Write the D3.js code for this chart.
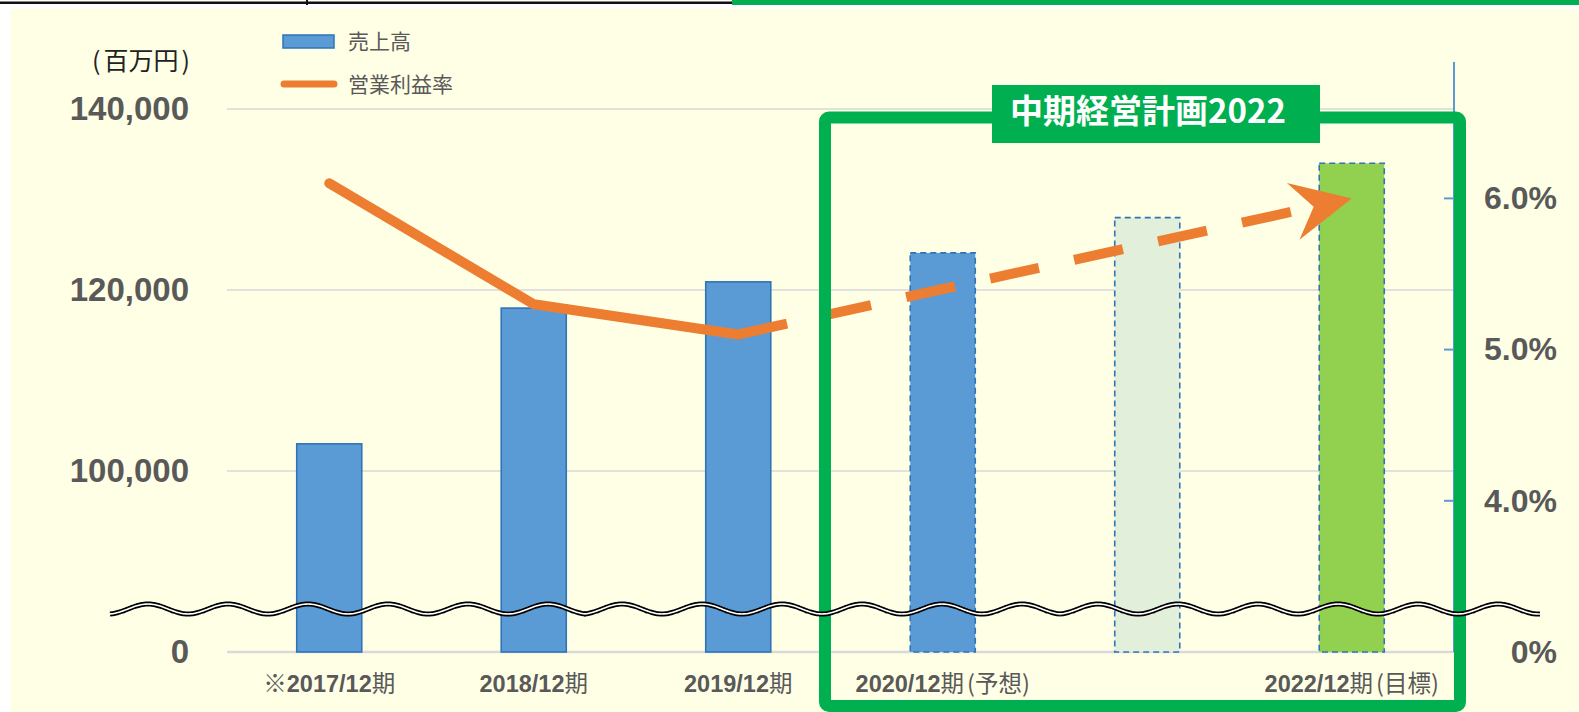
<!DOCTYPE html>
<html>
<head>
<meta charset="utf-8">
<script src="https://cdn.jsdelivr.net/npm/d3@7"></script>
<style>
  html, body { margin: 0; padding: 0; background: #fff; }
  svg { display: block; }
</style>
</head>
<body>
<div id="chart"></div>
<script>
// データ
const categories = ['2017', '2018', '2019', '2020', '2021', '2022'];
const xLabels = ['※2017/12期', '2018/12期', '2019/12期', '2020/12期(予想)', '', '2022/12期(目標)'];
const sales = [103000, 118000, 120900, 124100, 128000, 134000];
const barFills = ['#5B9BD5', '#5B9BD5', '#5B9BD5', '#5B9BD5', '#E2EFDA', '#92D050'];
const barDashed = [false, false, false, true, true, true];
const marginActual = [6.1, 5.3, 5.1];   // 2017〜2019 実績
const marginTarget = 6.0;               // 2022 目標
const leftTicks = [80000, 100000, 120000, 140000];
const leftTickLabels = ['0', '100,000', '120,000', '140,000'];
const rightTicks = [3, 4, 5, 6];
const rightTickLabels = ['0%', '4.0%', '5.0%', '6.0%'];

const width = 1579, height = 712;
const plot = { left: 227, right: 1454, top: 62, bottom: 652 };
const numFont = '"Liberation Sans", Arial, sans-serif';
const jpFont = '"Noto Sans CJK JP", sans-serif';

const svg = d3.select('#chart').append('svg')
    .attr('width', width)
    .attr('height', height);

// 背景
svg.append('rect').attr('x', 10).attr('y', 9).attr('width', width - 10).attr('height', height - 9)
    .attr('fill', '#FFFFE6');
svg.append('rect').attr('x', 0).attr('y', 1.5).attr('width', 732).attr('height', 2.5).attr('fill', '#111');
svg.append('rect').attr('x', 306).attr('y', 0).attr('width', 2).attr('height', 5).attr('fill', '#111');
svg.append('rect').attr('x', 732).attr('y', 0).attr('width', width - 732).attr('height', 5).attr('fill', '#00B050');

// スケール（軸は省略表示：0 の位置に 80,000 / 3% を置く）
const x = d3.scaleBand().domain(categories).range([plot.left, plot.right])
    .paddingInner(0.682).paddingOuter(0.341);
const y = d3.scaleLinear().domain([80000, 140000]).range([plot.bottom, 109]);
const y2 = d3.scaleLinear().domain([3, 6]).range([plot.bottom, 198.4]);

// グリッド線
svg.append('g').selectAll('line')
    .data(leftTicks)
    .join('line')
    .attr('x1', plot.left).attr('x2', plot.right)
    .attr('y1', d => y(d)).attr('y2', d => y(d))
    .attr('stroke', '#D9D9D9')
    .attr('stroke-width', (d, i) => i === 0 ? 2.5 : 1.6);

// 左軸
const leftAxis = svg.append('g')
    .attr('transform', `translate(189,0)`)
    .call(d3.axisLeft(y).tickValues(leftTicks).tickSize(0).tickPadding(0)
        .tickFormat((d, i) => leftTickLabels[i]));
leftAxis.select('.domain').remove();
leftAxis.selectAll('text')
    .attr('font-family', numFont)
    .attr('font-size', 33).attr('font-weight', 'bold').attr('fill', '#595959');

// 単位
const unit = svg.append('text')
    .attr('x', 190).attr('y', 70)
    .attr('text-anchor', 'end')
    .attr('font-family', jpFont)
    .attr('font-size', 25).attr('fill', '#222');
unit.append('tspan').text('(');
unit.append('tspan').attr('dx', 3).text('百万円');
unit.append('tspan').attr('dx', 3).text(')');

// 右軸
svg.append('line')
    .attr('x1', plot.right).attr('x2', plot.right)
    .attr('y1', plot.top).attr('y2', plot.bottom)
    .attr('stroke', '#5B9BD5').attr('stroke-width', 2);
svg.append('g').selectAll('line')
    .data(rightTicks.slice(1))
    .join('line')
    .attr('x1', plot.right - 10).attr('x2', plot.right)
    .attr('y1', d => y2(d)).attr('y2', d => y2(d))
    .attr('stroke', '#5B9BD5').attr('stroke-width', 2);
const rightAxis = svg.append('g')
    .attr('transform', `translate(1557,0)`)
    .call(d3.axisLeft(y2).tickValues(rightTicks).tickSize(0).tickPadding(0)
        .tickFormat((d, i) => rightTickLabels[i]));
rightAxis.select('.domain').remove();
rightAxis.selectAll('text')
    .attr('font-family', numFont)
    .attr('font-size', 32).attr('font-weight', 'bold').attr('fill', '#595959');

// 棒グラフ
svg.append('g').selectAll('rect')
    .data(categories)
    .join('rect')
    .attr('x', d => x(d))
    .attr('y', (d, i) => y(sales[i]))
    .attr('width', x.bandwidth())
    .attr('height', (d, i) => y(80000) - y(sales[i]))
    .attr('fill', (d, i) => barFills[i])
    .attr('stroke', '#2E75B6')
    .attr('stroke-width', 1.6)
    .attr('stroke-dasharray', (d, i) => barDashed[i] ? '6,4' : null);

// X軸ラベル（数字は太字、漢字・括弧は標準）
const xAxis = svg.append('g')
    .attr('transform', `translate(0,${plot.bottom})`)
    .call(d3.axisBottom(x).tickSize(0).tickFormat(''));
xAxis.select('.domain').remove();
xAxis.selectAll('.tick text').remove();
xAxis.selectAll('.tick').each(function (d, i) {
    const t = d3.select(this).append('text')
        .attr('y', 40)
        .attr('text-anchor', 'middle')
        .attr('fill', '#595959')
        .attr('font-size', 23.5);
    const parts = xLabels[i].match(/[0-9\/]+|[()]|[^0-9\/()]+/g) || [];
    parts.forEach(p => {
        const num = /^[0-9\/]+$/.test(p);
        t.append('tspan')
            .attr('font-family', num ? numFont : jpFont)
            .attr('font-weight', num ? 'bold' : 'normal')
            .attr('dx', p === '(' ? 3 : null)
            .text(p);
    });
});

// 営業利益率（実績）
const cx = d => x(d) + x.bandwidth() / 2;
const line = d3.line().x(d => cx(d[0])).y(d => y2(d[1]));
svg.append('path')
    .datum(marginActual.map((v, i) => [categories[i], v]))
    .attr('d', line)
    .attr('fill', 'none')
    .attr('stroke', '#ED7D31')
    .attr('stroke-width', 10)
    .attr('stroke-linecap', 'round')
    .attr('stroke-linejoin', 'round');

// 目標への破線矢印
const p0 = [cx(categories[2]), y2(marginActual[2])];
const p1 = [cx(categories[5]), y2(marginTarget)];
const dx = p1[0] - p0[0], dy = p1[1] - p0[1];
const len = Math.hypot(dx, dy);
const ux = dx / len, uy = dy / len, nx = -uy, ny = ux;
const pt = (a, b) => [p1[0] + ux * a + nx * b, p1[1] + uy * a + ny * b];
svg.append('line')
    .attr('x1', p0[0]).attr('y1', p0[1])
    .attr('x2', pt(-40, 0)[0]).attr('y2', pt(-40, 0)[1])
    .attr('stroke', '#ED7D31')
    .attr('stroke-width', 10)
    .attr('stroke-dasharray', '50,36');
svg.append('path')
    .attr('d', 'M' + [p1, pt(-60, -29), pt(-39, 0), pt(-60, 29)].map(p => p.join(',')).join('L') + 'Z')
    .attr('fill', '#ED7D31');

// 中期経営計画の枠
svg.append('rect')
    .attr('x', 825).attr('y', 117.5)
    .attr('width', 1460 - 825).attr('height', 706 - 117.5)
    .attr('rx', 4)
    .attr('fill', 'none')
    .attr('stroke', '#00B050')
    .attr('stroke-width', 12);
svg.append('rect')
    .attr('x', 992).attr('y', 85).attr('width', 328).attr('height', 58)
    .attr('fill', '#00B050');
svg.append('text')
    .attr('x', 1148).attr('y', 123)
    .attr('text-anchor', 'middle')
    .attr('font-family', jpFont)
    .attr('font-weight', 'bold')
    .attr('font-size', 33)
    .attr('fill', '#fff')
    .text('中期経営計画2022');

// 凡例
svg.append('rect').attr('x', 283).attr('y', 35).attr('width', 51).attr('height', 13)
    .attr('fill', '#5B9BD5').attr('stroke', '#2E75B6').attr('stroke-width', 1.5);
svg.append('text').attr('x', 348).attr('y', 49)
    .attr('font-family', jpFont).attr('font-size', 21).attr('fill', '#595959')
    .text('売上高');
svg.append('line').attr('x1', 284).attr('x2', 334).attr('y1', 84).attr('y2', 84)
    .attr('stroke', '#ED7D31').attr('stroke-width', 7).attr('stroke-linecap', 'round');
svg.append('text').attr('x', 348).attr('y', 92)
    .attr('font-family', jpFont).attr('font-size', 21).attr('fill', '#595959')
    .text('営業利益率');

// 省略の波線
const segments = [[110, 587], [584, 1060], [1060, 1540]];
const wave = d3.line().curve(d3.curveBasis);
segments.forEach(([s, e]) => {
    const pts = d3.range(s, e + 1, 2).map(px => [px, 609 - 5 * Math.sin(2 * Math.PI * (px - s - 18) / 80)]);
    svg.append('path').attr('d', wave(pts)).attr('fill', 'none')
        .attr('stroke', '#000').attr('stroke-width', 5);
    svg.append('path').attr('d', wave(pts)).attr('fill', 'none')
        .attr('stroke', '#fff').attr('stroke-width', 1.6);
});
</script>
</body>
</html>
